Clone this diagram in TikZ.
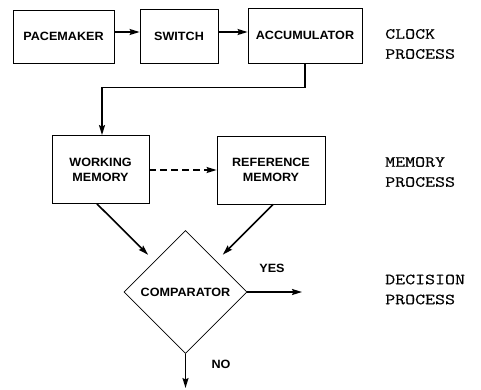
\documentclass[tikz,border=0pt]{standalone}
\usepackage{fontspec}
\setmainfont{Liberation Sans}
\newfontfamily\lblfont[FakeStretch=1.05]{Liberation Sans}
\newfontfamily\procfont[FakeStretch=1.25,FakeBold=0.4]{Latin Modern Mono}
\usetikzlibrary{shapes.geometric,arrows.meta}
\tikzset{
  boxnode/.style={draw, line width=0.8pt, rectangle, inner sep=0pt, align=center,
    font=\lblfont\bfseries\fontsize{12}{15}\selectfont},
  decnode/.style={draw, line width=0.8pt, diamond, aspect=1, inner sep=0pt, minimum size=123pt,
    font=\lblfont\bfseries\fontsize{12}{15}\selectfont},
  lbl/.style={inner sep=0pt, font=\lblfont\bfseries\fontsize{12}{15}\selectfont},
  proc/.style={anchor=west, inner sep=0pt, align=left, font=\procfont\fontsize{15.5}{20}\selectfont},
  arr/.style={line width=1.6pt, -{Stealth[length=10pt,width=6pt,inset=1.5pt]}},
  thinarr/.style={line width=1.4pt, -{Stealth[length=10pt,width=6pt,inset=1.5pt]}},
}
\begin{document}
\begin{tikzpicture}[x=1pt,y=-1pt]
\useasboundingbox (0,0) rectangle (481,389);
\node[boxnode, minimum width=101pt, minimum height=53pt] (pace) at (63.5,36.5) {PACEMAKER};
\node[boxnode, minimum width=78pt, minimum height=54pt] (switch) at (179,36) {SWITCH};
\node[boxnode, minimum width=114pt, minimum height=55pt] (accum) at (305,35.5) {ACCUMULATOR};
\node[boxnode, minimum width=97pt, minimum height=68pt] (wm) at (100.5,169.5) {WORKING\\MEMORY};
\node[boxnode, minimum width=108pt, minimum height=68pt] (rm) at (271,170) {REFERENCE\\MEMORY};
\node[decnode] (comp) at (185.5,292) {COMPARATOR};

\coordinate (yesend) at (302,292);
\coordinate (noend) at (185.5,388);

\draw[thinarr] (pace.east |- 0,32) -- (switch.west |- 0,32);
\draw[thinarr] (switch.east |- 0,32) -- (accum.west |- 0,32);
\draw[arr] (accum.south) -- ++(0,24) -| ([xshift=1.5pt]wm.north);
\draw[thinarr, dashed, dash pattern=on 7pt off 4pt] (wm.east |- 0,170) -- (rm.west |- 0,170);
\draw[arr, shorten >=9pt] ([xshift=-3.5pt]wm.south) -- (comp);
\draw[arr, shorten >=9pt] ([xshift=2pt]rm.south) -- (comp);
\draw[arr] (comp.east) -- (yesend);
\draw[arr] (comp.south) -- (noend);

\node[lbl] (yes) at (272,268) {YES};
\node[lbl] (no) at (221,364) {NO};

\node[proc] (clock) at (385,44) {CLOCK\\PROCESS};
\node[proc] (memory) at (385,172) {MEMORY\\PROCESS};
\node[proc] (decision) at (385,289.5) {DECISION\\PROCESS};
\end{tikzpicture}
\end{document}
